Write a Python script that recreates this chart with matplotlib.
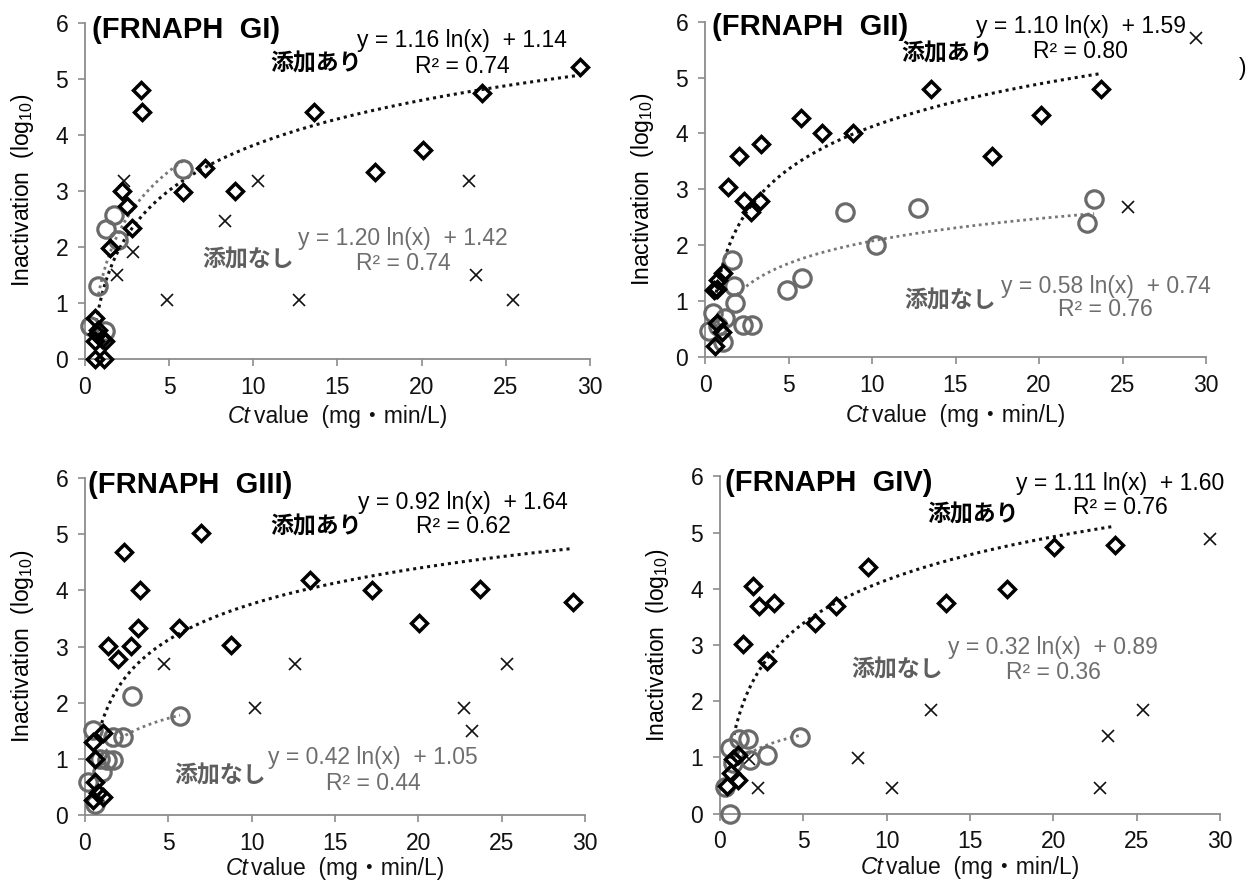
import numpy as np
import matplotlib
matplotlib.use("Agg")
import matplotlib.pyplot as plt
from matplotlib.offsetbox import TextArea, HPacker, AnchoredOffsetbox

plt.rcParams['font.family'] = ['Liberation Sans', 'Noto Sans CJK JP', 'DejaVu Sans']
plt.rcParams['mathtext.default'] = 'regular'

# ---------------- data ----------------
titles = ["(FRNAPH  GI)", "(FRNAPH  GII)", "(FRNAPH  GIII)", "(FRNAPH  GIV)"]

# 添加あり (diamonds)
gi_add_x = [0.6, 0.8, 0.7, 1.0, 1.2, 0.6, 0.6, 1.1, 1.5, 2.2, 2.5, 2.8, 3.3, 3.4, 5.8, 7.1, 8.9, 13.6, 17.2, 20.1, 23.6, 29.4]
gi_add_y = [0.73, 0.52, 0.45, 0.35, 0.32, 0.32, 0.0, 0.0, 1.98, 3.0, 2.73, 2.33, 4.8, 4.4, 2.98, 3.4, 3.0, 4.4, 3.33, 3.72, 4.75, 5.2]
gii_add_x = [0.6, 1.0, 0.7, 0.55, 0.7, 0.8, 1.1, 1.35, 2.05, 2.35, 2.75, 3.3, 3.35, 5.75, 7.0, 8.85, 13.55, 17.2, 20.1, 23.7]
gii_add_y = [0.19, 0.44, 0.6, 1.2, 1.22, 1.37, 1.51, 3.04, 3.6, 2.79, 2.59, 2.79, 3.81, 4.27, 4.0, 4.0, 4.8, 3.6, 4.33, 4.8]
giii_add_x = [0.5, 0.8, 1.1, 0.6, 0.6, 0.5, 1.05, 1.4, 2.0, 2.74, 3.2, 3.3, 2.33, 5.66, 6.94, 8.76, 13.5, 17.2, 20.05, 23.7, 29.3]
giii_add_y = [0.27, 0.39, 0.33, 0.6, 1.0, 1.31, 1.47, 3.01, 2.78, 3.01, 3.34, 4.0, 4.68, 3.34, 5.03, 3.03, 4.19, 4.0, 3.42, 4.02, 3.79]
giv_add_x = [0.4, 0.66, 1.07, 0.75, 1.05, 1.35, 2.0, 2.35, 3.25, 2.8, 5.7, 6.95, 8.9, 13.55, 17.2, 20.05, 23.7]
giv_add_y = [0.49, 0.72, 0.6, 0.97, 1.05, 3.02, 4.05, 3.7, 3.74, 2.72, 3.4, 3.69, 4.39, 3.74, 3.99, 4.74, 4.78]

# 添加なし (circles)
gi_none_x = [0.3, 1.2, 0.8, 1.25, 1.7, 1.95, 5.85]
gi_none_y = [0.58, 0.5, 1.3, 2.32, 2.57, 2.12, 3.38]
gii_none_x = [0.25, 0.5, 1.2, 1.05, 0.75, 1.6, 1.75, 1.8, 2.3, 2.8, 4.9, 5.8, 8.4, 10.25, 12.75, 22.85, 23.3]
gii_none_y = [0.47, 0.78, 0.7, 0.27, 0.55, 1.73, 1.27, 0.97, 0.57, 0.57, 1.19, 1.41, 2.59, 2.0, 2.67, 2.4, 2.82]
giii_none_x = [0.2, 0.6, 0.5, 0.9, 1.0, 1.3, 1.7, 1.7, 2.25, 2.8, 5.7]
giii_none_y = [0.59, 0.2, 1.52, 1.0, 0.77, 0.98, 0.98, 1.4, 1.4, 2.12, 1.76]
giv_none_x = [0.6, 0.3, 0.6, 1.13, 1.68, 1.8, 2.8, 4.8, 0.8]
giv_none_y = [0.0, 0.47, 1.17, 1.32, 1.32, 0.96, 1.05, 1.37, 0.9]

# unlabelled cross series
gi_cross_x = [2.3, 10.3, 22.8, 8.3, 2.85, 1.9, 4.85, 12.7, 23.2, 25.4]
gi_cross_y = [3.17, 3.17, 3.17, 2.47, 1.9, 1.49, 1.05, 1.05, 1.49, 1.05]
gii_cross_x = [29.4, 25.3]
gii_cross_y = [5.7, 2.69]
giii_cross_x = [4.73, 12.6, 25.3, 10.2, 22.75, 23.2]
giii_cross_y = [2.69, 2.69, 2.69, 1.9, 1.9, 1.5]
giv_cross_x = [1.75, 2.3, 8.25, 10.3, 12.65, 22.8, 23.25, 25.4, 29.4]
giv_cross_y = [0.97, 0.46, 0.99, 0.46, 1.85, 0.46, 1.39, 1.85, 4.89]

# trendline coefficients: y = a ln(x) + b, R^2, drawn range
add_a = [1.16, 1.10, 0.92, 1.11]
add_b = [1.14, 1.59, 1.64, 1.60]
add_r2 = [0.74, 0.80, 0.62, 0.76]
add_range = [(0.6, 29.4), (0.6, 23.7), (1.0, 29.3), (0.75, 23.7)]
none_a = [1.20, 0.58, 0.42, 0.32]
none_b = [1.42, 0.74, 1.05, 0.89]
none_r2 = [0.74, 0.76, 0.44, 0.36]
none_range = [(0.8, 5.85), (1.9, 23.3), (1.0, 5.7), (1.1, 4.8)]

x_ticks = [0, 5, 10, 15, 20, 25, 30]
y_ticks = [0, 1, 2, 3, 4, 5, 6]

add_x = [gi_add_x, gii_add_x, giii_add_x, giv_add_x]
add_y = [gi_add_y, gii_add_y, giii_add_y, giv_add_y]
none_x = [gi_none_x, gii_none_x, giii_none_x, giv_none_x]
none_y = [gi_none_y, gii_none_y, giii_none_y, giv_none_y]
cross_x = [gi_cross_x, gii_cross_x, giii_cross_x, giv_cross_x]
cross_y = [gi_cross_y, gii_cross_y, giii_cross_y, giv_cross_y]

# annotation positions (data coords)
title_pos = [(0.4, 5.87), (0.4, 5.9), (0.2, 5.88), (0.3, 5.88)]
add_eq_pos = [(22.4, 5.68), (22.5, 5.91), (22.7, 5.57), (24.0, 5.88)]
add_r2_pos = [(22.4, 5.22), (22.5, 5.46), (22.7, 5.13), (24.0, 5.44)]
add_lbl_pos = [(13.7, 5.26), (14.5, 5.43), (13.85, 5.13), (15.2, 5.32)]
none_eq_pos = [(18.9, 2.15), (24.0, 1.26), (17.3, 1.02), (20.0, 2.95)]
none_r2_pos = [(18.9, 1.70), (24.0, 0.85), (17.3, 0.57), (20.0, 2.51)]
none_lbl_pos = [(9.7, 1.76), (14.7, 1.0), (8.1, 0.69), (10.6, 2.56)]

# ---------------- figure ----------------
W, H = 1252, 886
fig = plt.figure(figsize=(W / 100, H / 100), dpi=100)
boxes = [(85, 22.6, 590, 359), (705, 21.7, 1206, 357),
         (85, 478, 585, 815.3), (720, 476.3, 1220, 813.7)]
xlabel_y = [-0.172, -0.174, -0.158, -0.160]

GRAY = '#6a6a6a'
TXTGRAY = '#6e6e6e'
SPINE = '#8c8c8c'
FS = 16.5

for i, (l, t, r, b) in enumerate(boxes):
    ax = fig.add_axes([l / W, (H - b) / H, (r - l) / W, (b - t) / H])
    ax.set_xlim(0, 30)
    ax.set_ylim(0, 6)
    for s in ['top', 'right']:
        ax.spines[s].set_visible(False)
    for s in ['left', 'bottom']:
        ax.spines[s].set_color(SPINE)
        ax.spines[s].set_linewidth(1.3)
    ax.set_xticks(x_ticks)
    ax.set_yticks(y_ticks)
    ax.tick_params(axis='both', colors=SPINE, length=5, width=1.2, labelsize=FS,
                   labelcolor='#111111', direction='out')
    ax.tick_params(axis='x', pad=7)
    ax.tick_params(axis='y', pad=7)

    # trendlines
    xs = np.linspace(add_range[i][0], add_range[i][1], 300)
    ax.plot(xs, add_a[i] * np.log(xs) + add_b[i], color='#111111', lw=2.2,
            linestyle=(0, (1, 1.3)), zorder=2, clip_on=False)
    xs2 = np.linspace(none_range[i][0], none_range[i][1], 300)
    ax.plot(xs2, none_a[i] * np.log(xs2) + none_b[i], color='#777777', lw=2.0,
            linestyle=(0, (1, 1.3)), zorder=2, clip_on=False)

    # points
    ax.plot(cross_x[i], cross_y[i], linestyle='none', marker='x', ms=9,
            mew=1.2, color='#111111', zorder=3, clip_on=False)
    ax.plot(none_x[i], none_y[i], linestyle='none', marker='o', ms=12.5,
            mfc='none', mec=GRAY, mew=2.3, zorder=4, clip_on=False)
    ax.plot(add_x[i], add_y[i], linestyle='none', marker='D', ms=8.5,
            mfc='none', mec='black', mew=2.5, zorder=5, clip_on=False)

    # texts
    ax.text(*title_pos[i], titles[i], fontsize=21, fontweight='bold',
            ha='left', va='center', color='black')
    ax.text(*add_eq_pos[i], f"y = {add_a[i]:.2f} ln(x)  + {add_b[i]:.2f}",
            fontsize=FS, ha='center', va='center', color='black')
    ax.text(*add_r2_pos[i], f"R² = {add_r2[i]:.2f}", fontsize=FS,
            ha='center', va='center', color='black')
    ax.text(*add_lbl_pos[i], "添加あり", fontsize=FS, fontweight='bold',
            family=['Noto Sans CJK JP'], ha='center', va='center', color='black')
    ax.text(*none_eq_pos[i], f"y = {none_a[i]:.2f} ln(x)  + {none_b[i]:.2f}",
            fontsize=FS, ha='center', va='center', color=TXTGRAY)
    ax.text(*none_r2_pos[i], f"R² = {none_r2[i]:.2f}", fontsize=FS,
            ha='center', va='center', color=TXTGRAY)
    ax.text(*none_lbl_pos[i], "添加なし", fontsize=FS, fontweight='bold',
            family=['Noto Sans CJK JP'], ha='center', va='center', color='#5e5e5e')

    ax.set_ylabel("Inactivation  (log$_{10}$)", fontsize=FS, labelpad=14)

    ta1 = TextArea("Ct", textprops=dict(fontsize=FS, style='italic', color='#111111'))
    ta2 = TextArea("value  (mg・min/L)",
                   textprops=dict(fontsize=FS, color='#111111',
                                  family=['Liberation Sans', 'Noto Sans CJK JP']))
    pack = HPacker(children=[ta1, ta2], pad=0, sep=2, align='baseline')
    ab = AnchoredOffsetbox(loc='center', child=pack, frameon=False, pad=0,
                           bbox_to_anchor=(0.5, xlabel_y[i]), bbox_transform=ax.transAxes,
                           borderpad=0)
    ax.add_artist(ab)

    if i == 1:
        ax.text(32.2, 5.17, ")", fontsize=FS, ha='center', va='center',
                color='black', clip_on=False)

fig.savefig("out.png", dpi=100)
